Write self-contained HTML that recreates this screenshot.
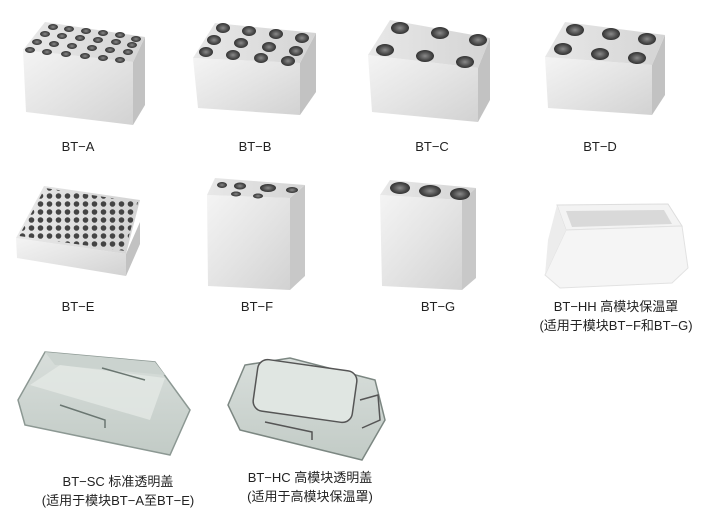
<!DOCTYPE html>
<html><head><meta charset="utf-8"><style>
body{margin:0;background:#fff;width:720px;height:520px;overflow:hidden;position:relative;font-family:"Liberation Sans","Noto Sans CJK SC",sans-serif;}
.l{position:absolute;font-size:13px;color:#222;text-align:center;line-height:19px;white-space:nowrap;transform:translateX(-50%);}
svg{position:absolute;left:0;top:0}
</style></head><body>
<svg width="720" height="520" viewBox="0 0 720 520">
<defs>
<linearGradient id="fr" x1="0" x2="1" y1="0" y2="1"><stop offset="0" stop-color="#f4f4f4"/><stop offset="0.5" stop-color="#e4e4e4"/><stop offset="1" stop-color="#d2d2d2"/></linearGradient>
<linearGradient id="tp" x1="0" x2="1"><stop offset="0" stop-color="#e8e8e8"/><stop offset="1" stop-color="#d4d4d4"/></linearGradient>
<radialGradient id="h"><stop offset="0" stop-color="#8a8a8a"/><stop offset="0.7" stop-color="#4a4a4a"/><stop offset="1" stop-color="#333"/></radialGradient>
<linearGradient id="gl" x1="0" x2="0" y1="0" y2="1"><stop offset="0" stop-color="#d8dedb"/><stop offset="1" stop-color="#c2cbc6"/></linearGradient>
<pattern id="pe" width="9" height="8" patternUnits="userSpaceOnUse"><circle cx="4.5" cy="4" r="2.8" fill="#444"/></pattern>
</defs>
<!-- BT-A -->
<polygon points="23,50 133,62 133,125 26,112" fill="url(#fr)"/>
<polygon points="133,62 145,37 145,105 133,125" fill="#c2c2c2"/>
<polygon points="45,22 145,37 133,62 23,50" fill="url(#tp)"/>
<g fill="url(#h)">
<ellipse cx="53" cy="27" rx="5" ry="3"/><ellipse cx="69" cy="29" rx="5" ry="3"/><ellipse cx="86" cy="31" rx="5" ry="3"/><ellipse cx="103" cy="33" rx="5" ry="3"/><ellipse cx="120" cy="35" rx="5" ry="3"/><ellipse cx="136" cy="39" rx="5" ry="3"/>
<ellipse cx="45" cy="34" rx="5" ry="3"/><ellipse cx="62" cy="36" rx="5" ry="3"/><ellipse cx="80" cy="38" rx="5" ry="3"/><ellipse cx="98" cy="40" rx="5" ry="3"/><ellipse cx="116" cy="42" rx="5" ry="3"/><ellipse cx="132" cy="45" rx="5" ry="3"/>
<ellipse cx="37" cy="42" rx="5" ry="3"/><ellipse cx="54" cy="44" rx="5" ry="3"/><ellipse cx="72" cy="46" rx="5" ry="3"/><ellipse cx="92" cy="48" rx="5" ry="3"/><ellipse cx="110" cy="50" rx="5" ry="3"/><ellipse cx="128" cy="52" rx="5" ry="3"/>
<ellipse cx="30" cy="50" rx="5" ry="3"/><ellipse cx="47" cy="52" rx="5" ry="3"/><ellipse cx="66" cy="54" rx="5" ry="3"/><ellipse cx="85" cy="56" rx="5" ry="3"/><ellipse cx="103" cy="58" rx="5" ry="3"/><ellipse cx="120" cy="60" rx="5" ry="3"/>
</g>
<!-- BT-B -->
<polygon points="193,58 300,63 300,115 198,108" fill="url(#fr)"/>
<polygon points="300,63 316,33 316,92 300,115" fill="#c2c2c2"/>
<polygon points="215,23 316,33 300,63 193,58" fill="url(#tp)"/>
<g fill="url(#h)">
<ellipse cx="223" cy="28" rx="7" ry="5"/><ellipse cx="249" cy="31" rx="7" ry="5"/><ellipse cx="276" cy="34" rx="7" ry="5"/><ellipse cx="302" cy="38" rx="7" ry="5"/>
<ellipse cx="214" cy="40" rx="7" ry="5"/><ellipse cx="241" cy="43" rx="7" ry="5"/><ellipse cx="269" cy="47" rx="7" ry="5"/><ellipse cx="296" cy="51" rx="7" ry="5"/>
<ellipse cx="206" cy="52" rx="7" ry="5"/><ellipse cx="233" cy="55" rx="7" ry="5"/><ellipse cx="261" cy="58" rx="7" ry="5"/><ellipse cx="288" cy="61" rx="7" ry="5"/>
</g>
<!-- BT-C -->
<polygon points="368,55 478,68 478,122 372,112" fill="url(#fr)"/>
<polygon points="478,68 490,38 490,100 478,122" fill="#c2c2c2"/>
<polygon points="390,20 490,38 478,68 368,55" fill="url(#tp)"/>
<g fill="url(#h)">
<ellipse cx="400" cy="28" rx="9" ry="6"/><ellipse cx="440" cy="33" rx="9" ry="6"/><ellipse cx="478" cy="40" rx="9" ry="6"/>
<ellipse cx="385" cy="50" rx="9" ry="6"/><ellipse cx="425" cy="56" rx="9" ry="6"/><ellipse cx="465" cy="62" rx="9" ry="6"/>
</g>
<!-- BT-D -->
<polygon points="545,57 652,65 652,115 548,108" fill="url(#fr)"/>
<polygon points="652,65 665,35 665,95 652,115" fill="#c2c2c2"/>
<polygon points="565,22 665,35 652,65 545,57" fill="url(#tp)"/>
<g fill="url(#h)">
<ellipse cx="575" cy="30" rx="9" ry="6"/><ellipse cx="611" cy="34" rx="9" ry="6"/><ellipse cx="647" cy="39" rx="9" ry="6"/>
<ellipse cx="563" cy="49" rx="9" ry="6"/><ellipse cx="600" cy="54" rx="9" ry="6"/><ellipse cx="637" cy="58" rx="9" ry="6"/>
</g>
<!-- BT-E -->
<polygon points="16,238 126,254 126,276 17,258" fill="url(#fr)"/>
<polygon points="126,254 140,222 140,244 126,276" fill="#c2c2c2"/>
<polygon points="44,186 140,200 126,254 16,238" fill="url(#tp)"/>
<polygon points="45,188 138,202 125,251 19,236" fill="url(#pe)"/>
<!-- BT-F -->
<polygon points="207,195 290,198 290,290 208,286" fill="url(#fr)"/>
<polygon points="290,198 305,185 305,276 290,290" fill="#c8c8c8"/>
<polygon points="215,178 305,185 290,198 207,195" fill="url(#tp)"/>
<g fill="url(#h)"><ellipse cx="222" cy="185" rx="5" ry="3"/><ellipse cx="240" cy="186" rx="6" ry="3.5"/><ellipse cx="268" cy="188" rx="8" ry="4"/><ellipse cx="292" cy="190" rx="6" ry="3"/><ellipse cx="236" cy="194" rx="5" ry="2.5"/><ellipse cx="258" cy="196" rx="5" ry="2.5"/></g>
<!-- BT-G -->
<polygon points="380,195 462,200 462,290 382,286" fill="url(#fr)"/>
<polygon points="462,200 476,188 476,278 462,290" fill="#c8c8c8"/>
<polygon points="390,180 476,188 462,200 380,195" fill="url(#tp)"/>
<g fill="url(#h)"><ellipse cx="400" cy="188" rx="10" ry="6"/><ellipse cx="430" cy="191" rx="11" ry="6"/><ellipse cx="460" cy="194" rx="10" ry="6"/></g>
<!-- BT-HH -->
<polygon points="557,205 668,204 682,226 566,230" fill="#f3f3f3" stroke="#ddd"/>
<polygon points="566,211 664,210 672,224 572,227" fill="#d9d9d9"/>
<polygon points="566,230 682,226 688,268 672,283 560,288 545,275" fill="#f5f5f5" stroke="#e2e2e2"/>
<polygon points="566,230 545,275 548,240 557,205" fill="#ececec"/>
<!-- BT-SC -->
<polygon points="18,400 45,352 155,362 190,410 170,455 25,425" fill="url(#gl)" stroke="#8c9893" stroke-width="1.5"/>
<polygon points="45,352 155,362 165,375 55,365" fill="#cbd3cf"/>
<polygon points="30,385 60,365 165,378 150,420" fill="#e3e8e5" opacity=".8"/>
<polyline points="60,405 105,420 105,428" fill="none" stroke="#6a7671" stroke-width="1.5"/>
<polyline points="102,368 145,380" fill="none" stroke="#6a7671" stroke-width="1.5"/>
<!-- BT-HC -->
<polygon points="228,405 245,365 290,358 375,380 385,420 362,460 240,430" fill="url(#gl)" stroke="#7c8782" stroke-width="1.5"/>
<rect x="255" y="365" width="100" height="52" rx="10" transform="rotate(8 305 391)" fill="#e0e6e2" stroke="#555" stroke-width="1.5"/>
<polyline points="265,422 312,432 312,440" fill="none" stroke="#555" stroke-width="1.5"/>
<polyline points="360,400 378,395 380,420 362,428" fill="none" stroke="#555" stroke-width="1.5"/>
</svg>
<div class="l" style="left:78px;top:137px">BT−A</div>
<div class="l" style="left:255px;top:137px">BT−B</div>
<div class="l" style="left:432px;top:137px">BT−C</div>
<div class="l" style="left:600px;top:137px">BT−D</div>
<div class="l" style="left:78px;top:297px">BT−E</div>
<div class="l" style="left:257px;top:297px">BT−F</div>
<div class="l" style="left:438px;top:297px">BT−G</div>
<div class="l" style="left:616px;top:297px">BT−HH 高模块保温罩<br>(适用于模块BT−F和BT−G)</div>
<div class="l" style="left:118px;top:472px">BT−SC 标准透明盖<br>(适用于模块BT−A至BT−E)</div>
<div class="l" style="left:310px;top:468px">BT−HC 高模块透明盖<br>(适用于高模块保温罩)</div>
</body></html>
